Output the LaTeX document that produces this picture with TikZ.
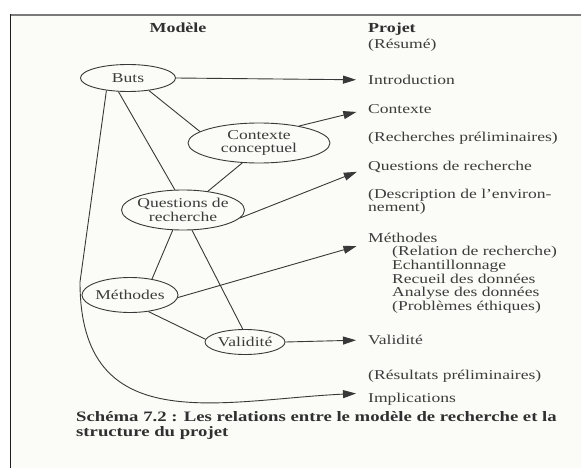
\documentclass[tikz,border=0pt]{standalone}
\usepackage{fontspec}
\setmainfont{Liberation Serif}[FakeStretch=1.3]
\usetikzlibrary{shapes.geometric,arrows.meta}
\definecolor{ink}{HTML}{3C3C3C}
\definecolor{lineink}{HTML}{383838}
\definecolor{paper}{HTML}{FBFBF7}
\definecolor{frametop}{HTML}{7A7A7A}
\definecolor{frameleft}{HTML}{1E1E1E}
\newcommand\bodyfs{\fontsize{13.5}{13.75}\selectfont}
\newcommand\headfs{\fontsize{13.8}{14}\selectfont\bfseries}
\newcommand\capfs{\fontsize{14.4}{15}\selectfont\bfseries}
\tikzset{
  ell/.style={ellipse, draw=lineink, line width=0.9pt, inner sep=0pt, text=ink, align=center, font=\bodyfs},
  lbl/.style={anchor=base west, inner sep=0pt, text=ink, font=\bodyfs},
  head/.style={inner sep=0pt, text=ink!80!black, font=\headfs},
  captxt/.style={anchor=base west, inner sep=0pt, text=ink!80!black, font=\capfs},
  link/.style={draw=lineink, line width=0.9pt},
  arr/.style={link, -{Triangle[length=13pt,width=8pt]}, shorten >=12pt},
}
\begin{document}
\begin{tikzpicture}[x=1pt,y=-1pt]
\useasboundingbox (0,0) rectangle (581,468);
\fill[white] (0,0) rectangle (581,468);
\fill[paper] (10,15) rectangle (581,468);
\draw[line width=2pt, color=frametop] (10,15) -- (581,15);
\draw[line width=1.4pt, color=frameleft] (10.5,14) -- (10.5,468);

% headings
\node[head, anchor=base] (modele) at (178,32.5) {Modèle};
\node[head, anchor=base west] (projet) at (368,32.5) {Projet};
\node[lbl] (resume) at (368,48.5) {(Résumé)};

% model ellipses
\node[ell, minimum width=95pt, minimum height=27pt] (buts) at (128,78) {Buts};
\node[ell, minimum width=142pt, minimum height=40pt] (cc) at (259,143) {Contexte\\conceptuel};
\node[ell, minimum width=123pt, minimum height=40pt, inner xsep=-4pt] (qdr) at (183,210) {Questions de\\recherche};
\node[ell, minimum width=96pt, minimum height=35pt, inner xsep=-2pt] (meth) at (130,295) {Méthodes};
\node[ell, minimum width=80pt, minimum height=25pt] (val) at (245,342) {Validité};

% project column
\node[lbl] (intro) at (368,84.5) {Introduction};
\node[lbl] (contexte) at (368,113.5) {Contexte};
\node[lbl] (rech) at (368,141.5) {(Recherches préliminaires)};
\node[lbl] (questions) at (368,171) {Questions de recherche};
\node[lbl] (descr1) at (368,198.5) {(Description de l'environ-};
\node[lbl] (descr2) at (368,211.5) {nement)};
\node[lbl] (methtxt) at (368,242.5) {Méthodes};
\node[lbl] (m1) at (392,255.7) {(Relation de recherche)};
\node[lbl] (m2) at (392,269.3) {Echantillonnage};
\node[lbl] (m3) at (392,283.2) {Recueil des données};
\node[lbl] (m4) at (392,296.7) {Analyse des données};
\node[lbl] (m5) at (392,310.2) {(Problèmes éthiques)};
\node[lbl] (valtxt) at (368,344.5) {Validité};
\node[lbl] (result) at (368,379.5) {(Résultats préliminaires)};
\node[lbl] (impl) at (368,402.5) {Implications};

% caption
\node[captxt] (cap1) at (76,421.5) {Schéma 7.2 : Les relations entre le modèle de recherche et la};
\node[captxt] (cap2) at (76,436.5) {structure du projet};

% links between model elements
\draw[link] (buts.-31) -- (cc.169);
\draw[link] (buts.-125) -- (qdr.112);
\draw[link] (cc.-130) -- (qdr.37);
\draw[link] (qdr.-117) -- (meth.36);
\draw[link] (qdr.-66) -- (val.100);
\draw[link] (meth.-42) -- (val.176);

% arrows to project structure
\draw[arr] (buts.east) -- (intro.west);
\draw[arr] (cc.23) -- (contexte.west);
\draw[arr] (qdr.-8) -- (questions.west);
\draw[arr] (meth.-3) -- (methtxt.south west);
\draw[arr] (val.east) -- (valtxt.west);
\coordinate (bend) at (80,282);
\coordinate (c1) at (80,440);
\coordinate (c2) at (220,400);
\draw[arr] (buts.-150) -- (bend) .. controls (c1) and (c2) .. (impl.north west);
\end{tikzpicture}
\end{document}
